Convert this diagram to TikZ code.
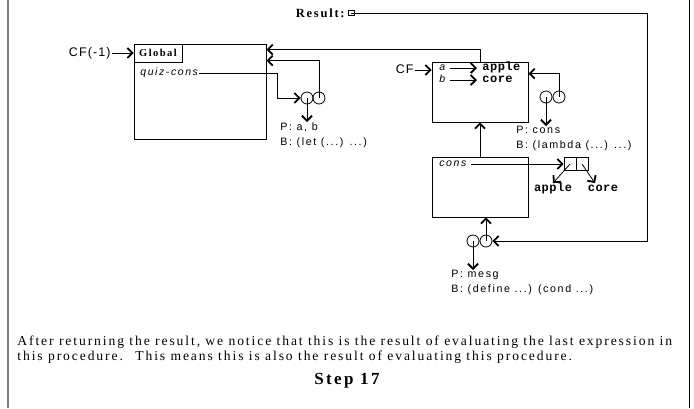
\documentclass[tikz,border=0pt]{standalone}
\usepackage{fontspec}
\setmainfont{Liberation Serif}
\newfontfamily\labfont[LetterSpace=15]{Liberation Sans}
\newfontfamily\cffont[LetterSpace=9]{Liberation Sans}
\newfontfamily\serfont[LetterSpace=14]{Liberation Serif}
\newfontfamily\valfont[LetterSpace=4]{Liberation Mono}
\usetikzlibrary{positioning,calc,arrows.meta}

\begin{document}
\begin{tikzpicture}[x=1pt, y=-1pt, ->, >={Straight Barb[length=5pt,width=10pt,line width=1.8pt]}, line width=0.8pt,
 envbox/.style={draw, rectangle, inner sep=0pt},
 proc/.style={circle, draw, minimum size=12pt, inner sep=0pt},
 cell/.style={draw, rectangle, minimum width=12pt, minimum height=13pt, inner sep=0pt},
 lab/.style={font=\labfont\fontsize{10.7}{15}\selectfont, align=left, inner sep=0pt},
 cf/.style={font=\cffont\fontsize{12.5}{14}\selectfont, inner sep=1pt, text height=8pt, text depth=2pt},
 var/.style={font=\labfont\itshape\fontsize{10.5}{12}\selectfont, inner sep=1pt, text height=7pt, text depth=2pt},
 val/.style={font=\valfont\bfseries\fontsize{12}{12}\selectfont, inner sep=1pt, text height=7pt, text depth=2pt}]

\useasboundingbox (0,0) rectangle (694,408);
\draw[-, gray, line width=2pt] (8,0) -- (8,408);
\draw[-, line width=1pt] (689,0) -- (689,408);

\node[envbox, minimum width=132pt, minimum height=95pt] (glob) at (200,91.5) {};
\node[envbox, minimum width=48pt, minimum height=18pt, anchor=north west, font=\serfont\bfseries\fontsize{10.5}{12}\selectfont] (globtag) at (glob.north west) {Global};
\node[cf, anchor=east] (cfm) at (112,53) {CF(-1)};
\node[var, anchor=west] (quiz) at (139,73) {quiz-cons};
\coordinate (quizbend) at (277,73);
\node[proc] (p1l) at (307,98) {};
\node[proc] (p1r) at (319,98) {};
\node[lab, anchor=north west] (p1lab) at (280,122) {P: a, b\\B: (let (...) ...)};

\draw (cfm.east) -- (cfm.east -| glob.west);
\draw (quiz.east) -- (quizbend) |- (p1l.west);
\draw (p1l.center) -- (p1l.center |- p1lab.north);
\draw (p1r.center) |- ($(glob.north east)+(0,17)$);

\node[envbox, minimum width=96pt, minimum height=60pt] (env1) at (480,92) {};
\node[cf, anchor=east] (cf1) at (415,70) {CF};
\node[var, anchor=west] (va) at (438,68) {a};
\node[var, anchor=west] (vb) at (438,80) {b};
\node[val, anchor=west] (xa) at (481,68) {apple};
\node[val, anchor=west] (xb) at (481,80) {core};
\node[proc] (p2l) at (546,97) {};
\node[proc] (p2r) at (559,97) {};
\node[lab, anchor=north west] (p2lab) at (516,126) {P: cons\\B: (lambda (...) ...)};

\draw (cf1.east) -- (cf1.east -| env1.west);
\draw[shorten <=3pt, shorten >=4pt] (va.east) -- (xa.west);
\draw[shorten <=3pt, shorten >=4pt] (vb.east) -- (xb.west);
\draw (env1.north) |- ($(glob.north east)+(0,6)$);
\draw (p2r.center) |- ($(env1.north east)+(0,12)$);
\draw (p2l.center) -- (p2l.center |- p2lab.north);

\node[envbox, minimum width=96pt, minimum height=60pt] (env2) at (480,187) {};
\node[var, anchor=west] (vcons) at (438,164) {cons};
\node[cell] (pa) at (570,164) {};
\node[cell] (pd) at (582,164) {};
\node[val] (oa) at (553,189) {apple};
\node[val] (od) at (603,189) {core};

\draw (env2.north) -- (env1.south);
\draw[shorten <=3pt] (vcons.east) -- (pa.west);
\draw (pa.center) -- (oa.north);
\draw (pd.center) -- ($(od.north)+(-8,0)$);

\node[proc] (p3l) at (473,241) {};
\node[proc] (p3r) at (486,241) {};
\node[lab, anchor=north west] (p3lab) at (451,270) {P: mesg\\B: (define ...) (cond ...)};

\draw (p3r.center) -- (p3r.center |- env2.south);
\draw (p3l.center) -- (p3l.center |- p3lab.north);

\node[font=\serfont\bfseries\fontsize{12.5}{12}\selectfont, anchor=east, inner sep=1pt] (res) at (346,13) {Result:};
\node[draw, minimum width=6pt, minimum height=5pt, inner sep=0pt, line width=0.6pt] (resbox) at (351,13) {};
\coordinate (rescorner) at (647,13);
\draw (resbox.center) -- (rescorner) |- (p3r.east);

\node[anchor=north west, align=left, inner sep=0pt, font=\serfont\fontsize{13.6}{15}\selectfont] (note) at (17,336) {After returning the result, we notice that this is the result of evaluating the last expression in\\this procedure.~ This means this is also the result of evaluating this procedure.};
\node[font=\serfont\bfseries\fontsize{17}{18}\selectfont] (step) at (347,381) {Step 17};
\end{tikzpicture}
\end{document}
